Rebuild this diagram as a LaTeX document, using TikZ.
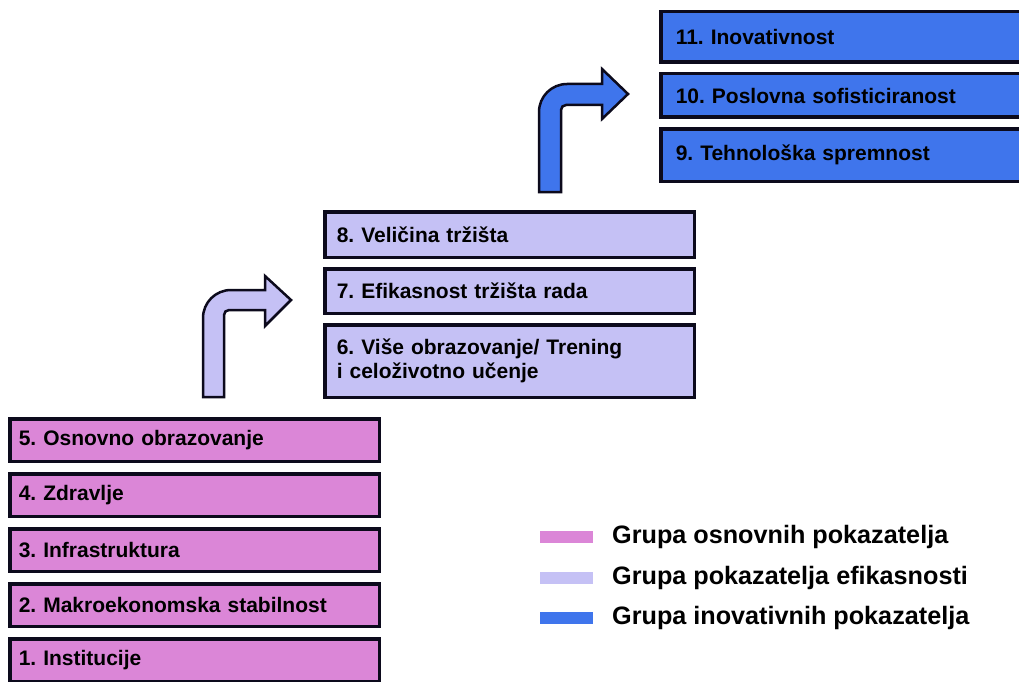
\documentclass[tikz,border=0pt]{standalone}
\usepackage{fontspec}
\setmainfont{Liberation Sans}
\frenchspacing
\definecolor{edge}{HTML}{0C0A1C}
\definecolor{basic}{HTML}{DB86D7}
\definecolor{effic}{HTML}{C5C1F5}
\definecolor{innov}{HTML}{3F75EC}
\tikzset{
  tier/.style={draw=edge, line width=3.5pt, anchor=north west, align=left,
    inner ysep=0pt, text=black, font=\fontsize{21}{24}\selectfont\bfseries},
  basictier/.style={tier, fill=basic, inner xsep=9pt, text width=351.5pt},
  effictier/.style={tier, fill=effic, inner xsep=12pt, text width=345.5pt},
  innovtier/.style={tier, fill=innov, inner xsep=15pt, text width=347.5pt},
  turnarrow/.style={draw=edge, line width=2.5pt, line join=miter},
  swatch/.style={minimum width=53pt, minimum height=12pt, inner sep=0pt},
  keytext/.style={anchor=west, inner sep=0pt, font=\fontsize{25.2}{30}\selectfont\bfseries}
}
\begin{document}
\begin{tikzpicture}[x=1pt, y=-1pt]
\useasboundingbox (0,0) rectangle (1019,682);
\clip (0,0) rectangle (1019,682);
\fill[white] (0,0) rectangle (1019,682);

% basic requirements
\node[basictier, minimum height=42.5pt] (b5) at (8,417) {5. Osnovno obrazovanje};
\node[basictier, minimum height=42.5pt] (b4) at (8,472) {4. Zdravlje};
\node[basictier, minimum height=42.5pt] (b3) at (8,527) {3. Infrastruktura};
\node[basictier, minimum height=42.5pt] (b2) at (8,582) {2. Makroekonomska stabilnost};
\node[basictier, minimum height=42.5pt] (b1) at (8,637) {1. Institucije};

% efficiency enhancers
\node[effictier, minimum height=45.5pt] (e8) at (323,210) {8. Veličina tržišta};
\node[effictier, minimum height=44.5pt] (e7) at (323,267) {7. Efikasnost tržišta rada};
\node[effictier, minimum height=72.5pt] (e6) at (323,323) {6. Više obrazovanje/ Trening\\i celoživotno učenje};

% innovation factors
\node[innovtier, minimum height=50.5pt] (i11) at (659,10) {11. Inovativnost};
\node[innovtier, minimum height=43.5pt] (i10) at (659,72) {10. Poslovna sofisticiranost};
\node[innovtier, minimum height=52.5pt] (i9) at (659,127) {9. Tehnološka spremnost};

% bent arrow from basic to efficiency group
\draw[turnarrow, fill=effic]
  (203,397) -- (203,318) .. controls (203,302.5) and (215.5,290) .. (231,290)
  -- (265,290) -- (265,276) -- (291,300) -- (265,326) -- (265,310)
  -- (229,310) .. controls (226.2,310) and (224,312.2) .. (224,315)
  -- (224,397) -- cycle;

% bent arrow from efficiency to innovation group
\draw[turnarrow, fill=innov]
  (539,192) -- (539,112) .. controls (539,96.5) and (551.5,84) .. (567,84)
  -- (602,84) -- (602,69) -- (628,94) -- (602,119) -- (602,105)
  -- (566,105) .. controls (563.2,105) and (561,107.2) .. (561,110)
  -- (561,192) -- cycle;

% legend
\node[swatch, fill=basic] (k1) at (566.5,537) {};
\node[swatch, fill=effic] (k2) at (566.5,578) {};
\node[swatch, fill=innov] (k3) at (566.5,618) {};
\node[keytext] (t1) at (612,537) {Grupa osnovnih pokazatelja};
\node[keytext] (t2) at (612,578) {Grupa pokazatelja efikasnosti};
\node[keytext] (t3) at (612,618) {Grupa inovativnih pokazatelja};
\end{tikzpicture}
\end{document}
